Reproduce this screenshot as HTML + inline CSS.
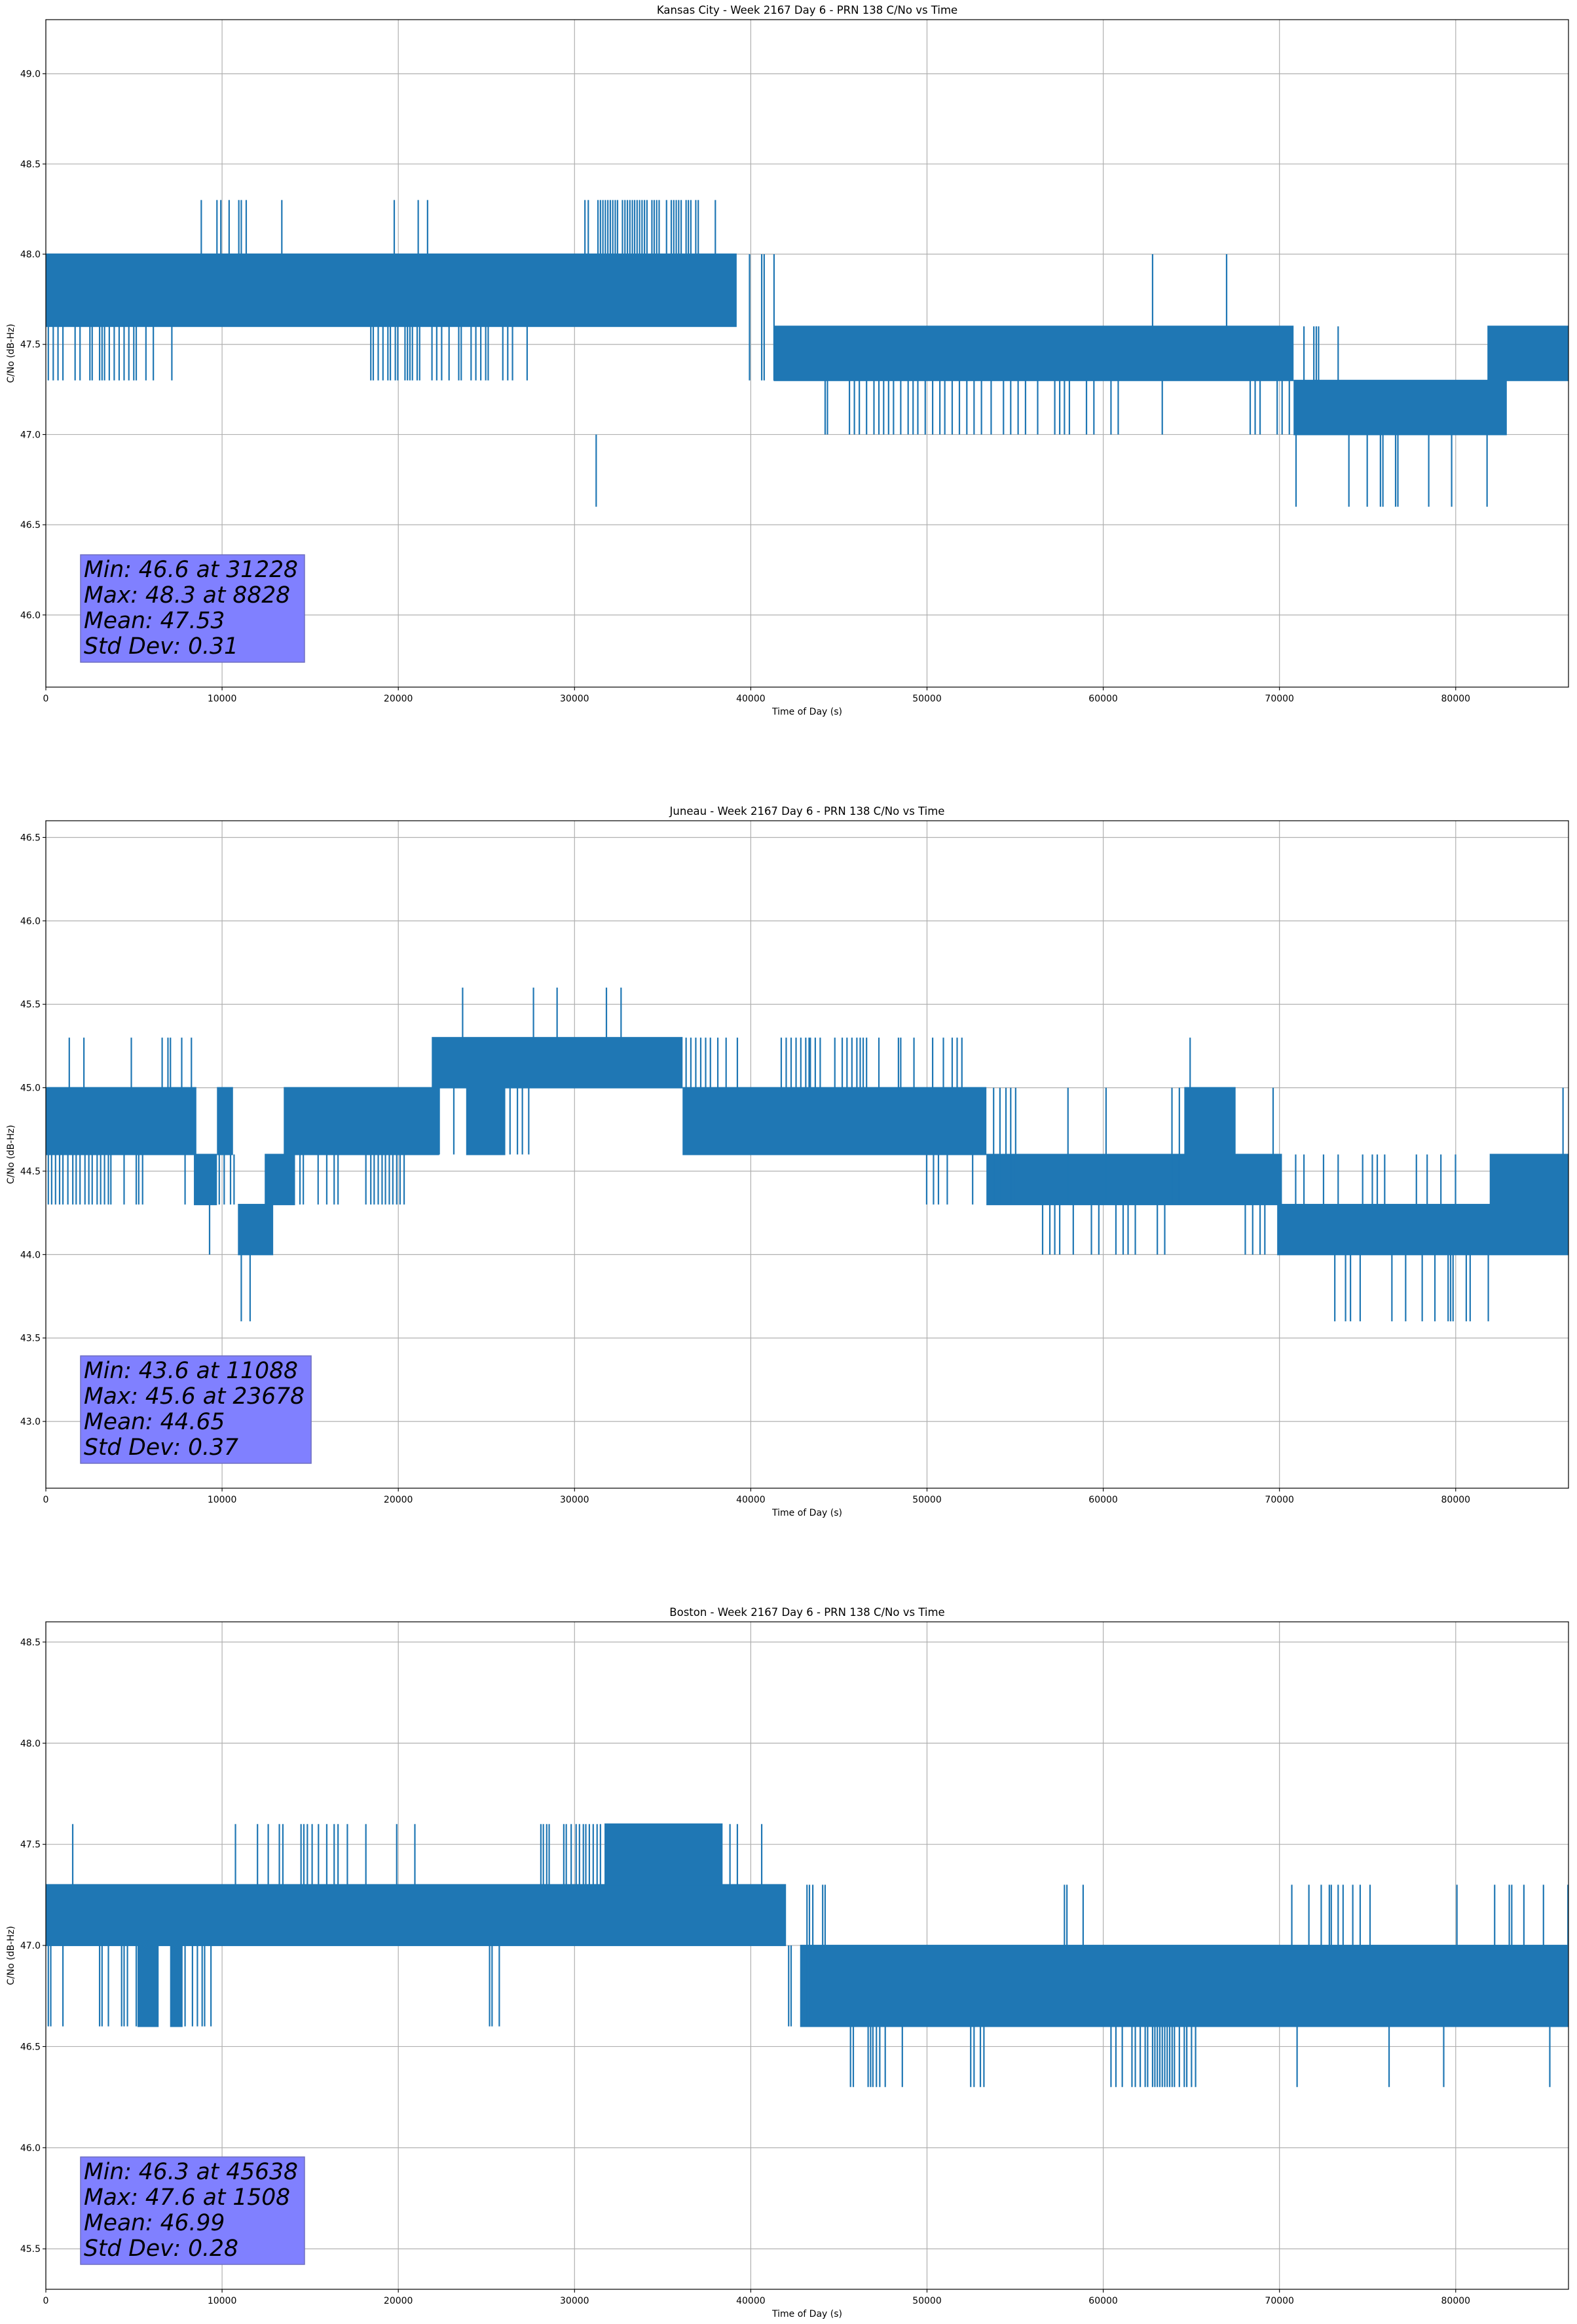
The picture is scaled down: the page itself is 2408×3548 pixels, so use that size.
<!DOCTYPE html>
<html><head><meta charset="utf-8"><title>PRN 138 C/No vs Time</title>
<style>
html,body{margin:0;padding:0;background:#fff;}
svg{display:block;}
text{font-family:"DejaVu Sans","Liberation Sans",sans-serif;fill:#000;}
</style></head>
<body>
<svg id="fig" xmlns="http://www.w3.org/2000/svg" width="2408" height="3548" viewBox="0 0 2408 3548"></svg>
<script>
// ---------- shared axis data ----------
const xTicks = [0,10000,20000,30000,40000,50000,60000,70000,80000];
const xMax = 86400;

// ---------- Kansas City ----------
const kcYTicks = [46.0,46.5,47.0,47.5,48.0,48.5,49.0];
const kcSegStart = [0, 41300, 70800, 81800];
const kcSegEnd   = [39200, 70800, 82900, 86400];
const kcSegLo    = [47.6, 47.3, 47.0, 47.3];
const kcSegHi    = [48.0, 47.6, 47.3, 47.6];
const kcDown473 = [140,420,690,970,1660,1940,2500,2630,3050,3190,3330,3600,3880,4160,4440,4710,4990,5130,5680,6100,7150,
  18440,18580,18860,19130,19410,19550,19830,19970,20380,20520,20660,20800,21070,21210,21910,22180,22460,22880,23430,23570,24130,24400,24680,24960,25100,25930,26210,26480,27310];
const kcUp483 = [8820,9710,9930,10400,10950,11090,11370,13390,19770,21130,21660,
  30590,30780,31330,31470,31610,31750,31890,32030,32170,32310,32440,32720,32860,33000,33140,33280,33410,33550,33690,33830,33970,34110,34390,34520,34660,34800,35220,35490,35630,35770,35910,36050,36330,36460,36600,36880,37020,37990];
const kcMid = [39930,40620,40760,41320];
const kcDown470 = [44220,44350,45600,45880,46160,46570,46990,47270,47540,47820,48100,48510,48930,49210,49480,49900,50320,50730,51010,51430,51840,52260,52670,53090,53640,54340,54750,55170,55590,56280,57250,57530,57800,58080,59050,59470,60440,60850,63350,68340,68620,68900,69870,70150,70560];
const kcUp480 = [62800,67000];
const kcUp476 = [71390,71950,72090,72220,73330];
const kcDown466 = [31228,70940,73940,74980,75730,75870,76590,76720,78470,79770,81780];
const kcSetLo = [47.3,48.0,47.3,47.0,47.6,47.3,46.6];
const kcSetHi = [47.6,48.3,48.0,47.3,48.0,47.6,47.0];

// ---------- Juneau ----------
const juYTicks = [43.0,43.5,44.0,44.5,45.0,45.5,46.0,46.5];
const juSegStart = [0, 8400, 9710, 10900, 12420, 13500, 21900, 23850, 36130, 53370, 64600, 69870, 81930];
const juSegEnd   = [8540, 9710, 10620, 12900, 14140, 22320, 36130, 26070, 53370, 70140, 67510, 86400, 86400];
const juSegLo    = [44.6, 44.3, 44.6, 44.0, 44.3, 44.6, 45.0, 44.6, 44.6, 44.3, 44.6, 44.0, 44.3];
const juSegHi    = [45.0, 44.6, 45.0, 44.3, 44.6, 45.0, 45.3, 45.0, 45.0, 44.6, 45.0, 44.3, 44.6];
const juDown443 = [140,330,550,780,970,1250,1530,1720,1940,2220,2440,2630,2910,3110,3330,3550,3690,4440,5130,5270,5490,7900,9840,10120,10480,10680,
  14420,14610,15450,15940,16360,16580,18160,18440,18630,18860,19080,19270,19490,19690,19910,20100,20330,49980,50370,50650,51150,52590];
const juUp453 = [1330,2160,4850,6600,6930,7070,7710,8260,36330,36600,36880,37160,37440,37710,38130,38600,39240,41730,42010,42290,42570,42840,43120,43310,
  43380,43660,43940,44770,45190,45460,45740,46020,46210,46380,46570,47270,48380,48510,49260,50320,50930,51430,51710,51980,64930];
const juDown446 = [22320,23150,26340,26760,27040,27400];
const juUp456 = [23650,27670,29010,31810,32640];
const juUp450 = [53780,54140,54480,54750,55030,58000,60160,63900,64320,69640,86090];
const juDown440 = [9290,56560,56970,57250,57530,58300,59330,59750,60720,61130,61410,61820,63070,63490,68060,68480,68900,69170];
const juUp446 = [70920,71390,72500,73330,74720,75270,75550,75970,77770,78380,79160,79990];
const juDown436 = [11090,11590,73140,73750,74030,74580,76380,77160,78100,78820,79570,79710,79850,80600,80820,81850];
const juSetLo = [44.3,45.0,44.6,45.3,44.3,44.0,44.3,43.6];
const juSetHi = [44.6,45.3,45.0,45.6,45.0,44.3,44.6,44.0];

// ---------- Boston ----------
const boYTicks = [45.5,46.0,46.5,47.0,47.5,48.0,48.5];
const boSegStart = [0, 31700, 42800, 5200, 7050];
const boSegEnd   = [42000, 38400, 86400, 6400, 7760];
const boSegLo    = [47.0, 47.3, 46.6, 46.6, 46.6];
const boSegHi    = [47.3, 47.6, 47.0, 47.0, 47.0];
const boUp476 = [1525,10760,12010,12620,13250,13450,14480,14640,14840,15110,15470,15940,16360,16580,17110,18160,19910,20940,
  28090,28230,28420,28560,29390,29530,29810,30090,30280,30500,30640,30840,31060,31280,31470,38820,39240,40620];
const boDown466 = [140,280,970,3050,3190,3550,4300,4440,4630,5130,7900,8320,8600,8870,9010,9370,25180,25320,25730,42150,42290,43200,43400];
const boUp473 = [43190,43330,43520,44080,44220,57800,57940,58860,70700,71670,72370,72830,72940,73330,73610,74160,74580,75140,80070,82210,83040,83180,83870,84980,86370];
const boDown463 = [45660,45820,46660,46800,46930,47130,47320,47630,48600,52480,52670,53030,53230,60440,60720,61080,61630,61820,62100,62380,62520,62800,62930,63070,63210,63350,63490,63630,63770,63910,64040,64320,64600,64740,65010,65240,71000,76220,79320,85340];
const boSetLo = [47.3,46.6,47.0,46.3];
const boSetHi = [47.6,47.0,47.3,46.6];

// ---------- drawing ----------
const NS = "http://www.w3.org/2000/svg";
const svg = document.getElementById("fig");
const X0 = 70, X1 = 2395, AXH = 1019;
const LINE = "#1f77b4";
function el(tag, attrs, parent, txt){
  const e = document.createElementNS(NS, tag);
  for (const k in attrs) e.setAttribute(k, attrs[k]);
  if (txt !== undefined) e.textContent = txt;
  (parent || svg).appendChild(e);
  return e;
}
function fx(t){ return X0 + (t / xMax) * (X1 - X0); }

function drawChart(c){
  const g = el("g", {});
  
  
  const top = c.top, bot = top + AXH;
  const fy = v => top + (c.ymax - v) / (c.ymax - c.ymin) * AXH;

  c.yTicks.forEach(v => {
    const l = el("line", {x1:X0, x2:X1, y1:fy(v), y2:fy(v), stroke:"#b0b0b0", "stroke-width":1.2}, g);
    
    
  });
  xTicks.forEach(t => {
    const l = el("line", {x1:fx(t), x2:fx(t), y1:top, y2:bot, stroke:"#b0b0b0", "stroke-width":1.2}, g);
    
    
  });

  const series = el("g", {}, g);
  
  
  for (let i = 0; i < c.segStart.length; i++){
    const x = fx(c.segStart[i]), w = Math.max(2, fx(c.segEnd[i]) - x);
    const r = el("rect", {x:x, y:fy(c.segHi[i]) - 1, width:w, height:fy(c.segLo[i]) - fy(c.segHi[i]) + 2, fill:LINE}, series);
    
    
  }
  c.sets.forEach((arr, j) => {
    arr.forEach(t => {
      const l = el("line", {x1:fx(t), x2:fx(t), y1:fy(c.setHi[j]), y2:fy(c.setLo[j]), stroke:LINE, "stroke-width":2.2}, series);
      
      
    });
  });

  const sp = el("rect", {x:X0, y:top, width:X1 - X0, height:AXH, fill:"none", stroke:"#000", "stroke-width":1.2}, g);
  
  

  c.yTicks.forEach(v => {
    el("line", {x1:X0 - 5, x2:X0, y1:fy(v), y2:fy(v), stroke:"#000", "stroke-width":1.1}, g);
    const t = el("text", {x:X0 - 8, y:fy(v) + 5, "text-anchor":"end", "font-size":"14"}, g, v.toFixed(1));
    
    
  });
  xTicks.forEach(v => {
    el("line", {x1:fx(v), x2:fx(v), y1:bot, y2:bot + 5, stroke:"#000", "stroke-width":1.1}, g);
    const t = el("text", {x:fx(v), y:bot + 22, "text-anchor":"middle", "font-size":"14"}, g, String(v));
    
    
  });

  const ti = el("text", {x:(X0 + X1) / 2, y:top - 9, "text-anchor":"middle", "font-size":"16.5"}, g, c.title);
  
  
  const xl = el("text", {x:(X0 + X1) / 2, y:bot + 42, "text-anchor":"middle", "font-size":"14"}, g, "Time of Day (s)");
  
  
  const cy = top + AXH / 2;
  const yl = el("text", {x:21, y:cy, "text-anchor":"middle", "font-size":"14", transform:"rotate(-90 21 " + cy + ")"}, g, "C/No (dB-Hz)");
  
  

  const bg = el("g", {}, g);
  
  
  const boxTop = bot - 202, boxH = 164;
  const box = el("rect", {x:123, y:boxTop, width:c.boxW, height:boxH, fill:"#8080ff", stroke:"#6f6fc0", "stroke-width":1.5}, bg);
  
  
  let maxW = 0;
  c.stats.forEach((s, i) => {
    const t = el("text", {x:128, y:boxTop + 34 + i * 39, "font-size":"34.5", "font-style":"italic"}, bg, s);
    
    
    try { maxW = Math.max(maxW, t.getComputedTextLength()); } catch(e) {}
  });
  if (maxW > 100) box.setAttribute("width", maxW + 15);
}

drawChart({key:"kansas-city", top:30, ymin:45.6, ymax:49.3, yTicks:kcYTicks,
  title:"Kansas City - Week 2167 Day 6 - PRN 138 C/No vs Time",
  segStart:kcSegStart, segEnd:kcSegEnd, segLo:kcSegLo, segHi:kcSegHi,
  sets:[kcDown473,kcUp483,kcMid,kcDown470,kcUp480,kcUp476,kcDown466], setLo:kcSetLo, setHi:kcSetHi,
  boxW:341, stats:["Min: 46.6 at 31228","Max: 48.3 at 8828","Mean: 47.53","Std Dev: 0.31"]});
drawChart({key:"juneau", top:1253, ymin:42.6, ymax:46.6, yTicks:juYTicks,
  title:"Juneau - Week 2167 Day 6 - PRN 138 C/No vs Time",
  segStart:juSegStart, segEnd:juSegEnd, segLo:juSegLo, segHi:juSegHi,
  sets:[juDown443,juUp453,juDown446,juUp456,juUp450,juDown440,juUp446,juDown436], setLo:juSetLo, setHi:juSetHi,
  boxW:350, stats:["Min: 43.6 at 11088","Max: 45.6 at 23678","Mean: 44.65","Std Dev: 0.37"]});
drawChart({key:"boston", top:2476, ymin:45.3, ymax:48.6, yTicks:boYTicks,
  title:"Boston - Week 2167 Day 6 - PRN 138 C/No vs Time",
  segStart:boSegStart, segEnd:boSegEnd, segLo:boSegLo, segHi:boSegHi,
  sets:[boUp476,boDown466,boUp473,boDown463], setLo:boSetLo, setHi:boSetHi,
  boxW:341, stats:["Min: 46.3 at 45638","Max: 47.6 at 1508","Mean: 46.99","Std Dev: 0.28"]});
</script>
</body></html>
